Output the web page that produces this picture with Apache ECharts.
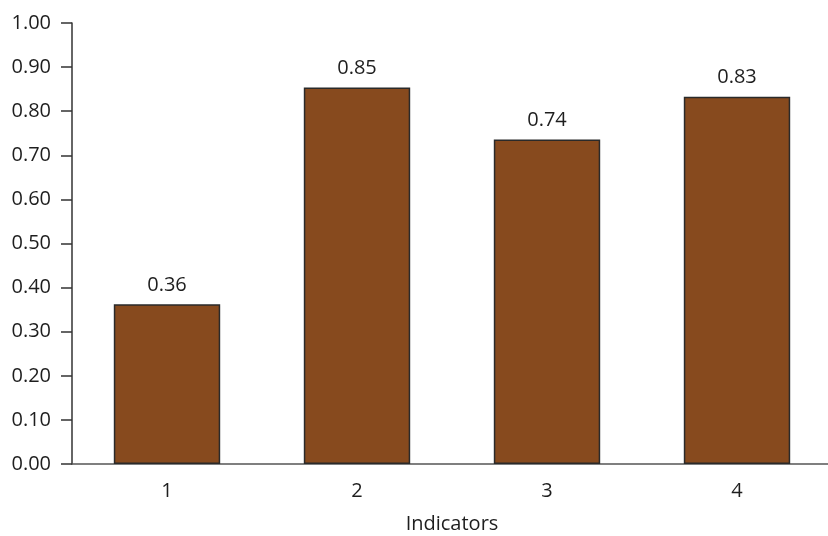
<!DOCTYPE html>
<html>
<head>
<meta charset="utf-8">
<script src="https://cdn.jsdelivr.net/npm/echarts@6/dist/echarts.min.js"></script>
<style>
html,body{margin:0;padding:0;background:#fff;}
#chart{width:828px;height:536px;}
</style>
</head>
<body>
<div id="chart"></div>
<script>
const categories = ['1', '2', '3', '4'];
const values = [0.362, 0.854, 0.736, 0.833];
const yTicks = { min: 0, max: 1, interval: 0.1 };
const xTitle = 'Indicators';

const FONT = 'Open Sans';
const chart = echarts.init(document.getElementById('chart'), null, { renderer: 'canvas' });
chart.setOption({
  animation: false,
  grid: { left: 72, right: -4, top: 23, bottom: 72, outerBoundsMode: 'none', containLabel: false },
  xAxis: {
    type: 'category',
    data: categories,
    name: xTitle,
    nameLocation: 'middle',
    nameGap: 50,
    nameTextStyle: { fontFamily: FONT, fontSize: 20, color: '#1e1e1e' },
    axisLine: { lineStyle: { color: '#555', width: 1.5 } },
    axisTick: { show: false },
    axisLabel: { fontFamily: FONT, fontSize: 20, color: '#1e1e1e', margin: 17 }
  },
  yAxis: {
    type: 'value',
    min: yTicks.min, max: yTicks.max, interval: yTicks.interval,
    splitLine: { show: false },
    axisLine: { show: true, lineStyle: { color: '#333', width: 1.5 } },
    axisTick: { show: true, length: 11, lineStyle: { color: '#333', width: 1.5 } },
    axisLabel: { fontFamily: FONT, fontSize: 20, color: '#1e1e1e', margin: 21,
      formatter: v => v.toFixed(2) }
  },
  series: [{
    type: 'bar',
    data: values,
    barWidth: '56%',
    itemStyle: { color: '#874a1e', borderColor: '#2a2a2a', borderWidth: 1.5 },
    label: { show: true, position: 'top', distance: 9, fontFamily: FONT, fontSize: 20, color: '#1e1e1e',
      formatter: p => p.value.toFixed(2) }
  }]
});
</script>
</body>
</html>
